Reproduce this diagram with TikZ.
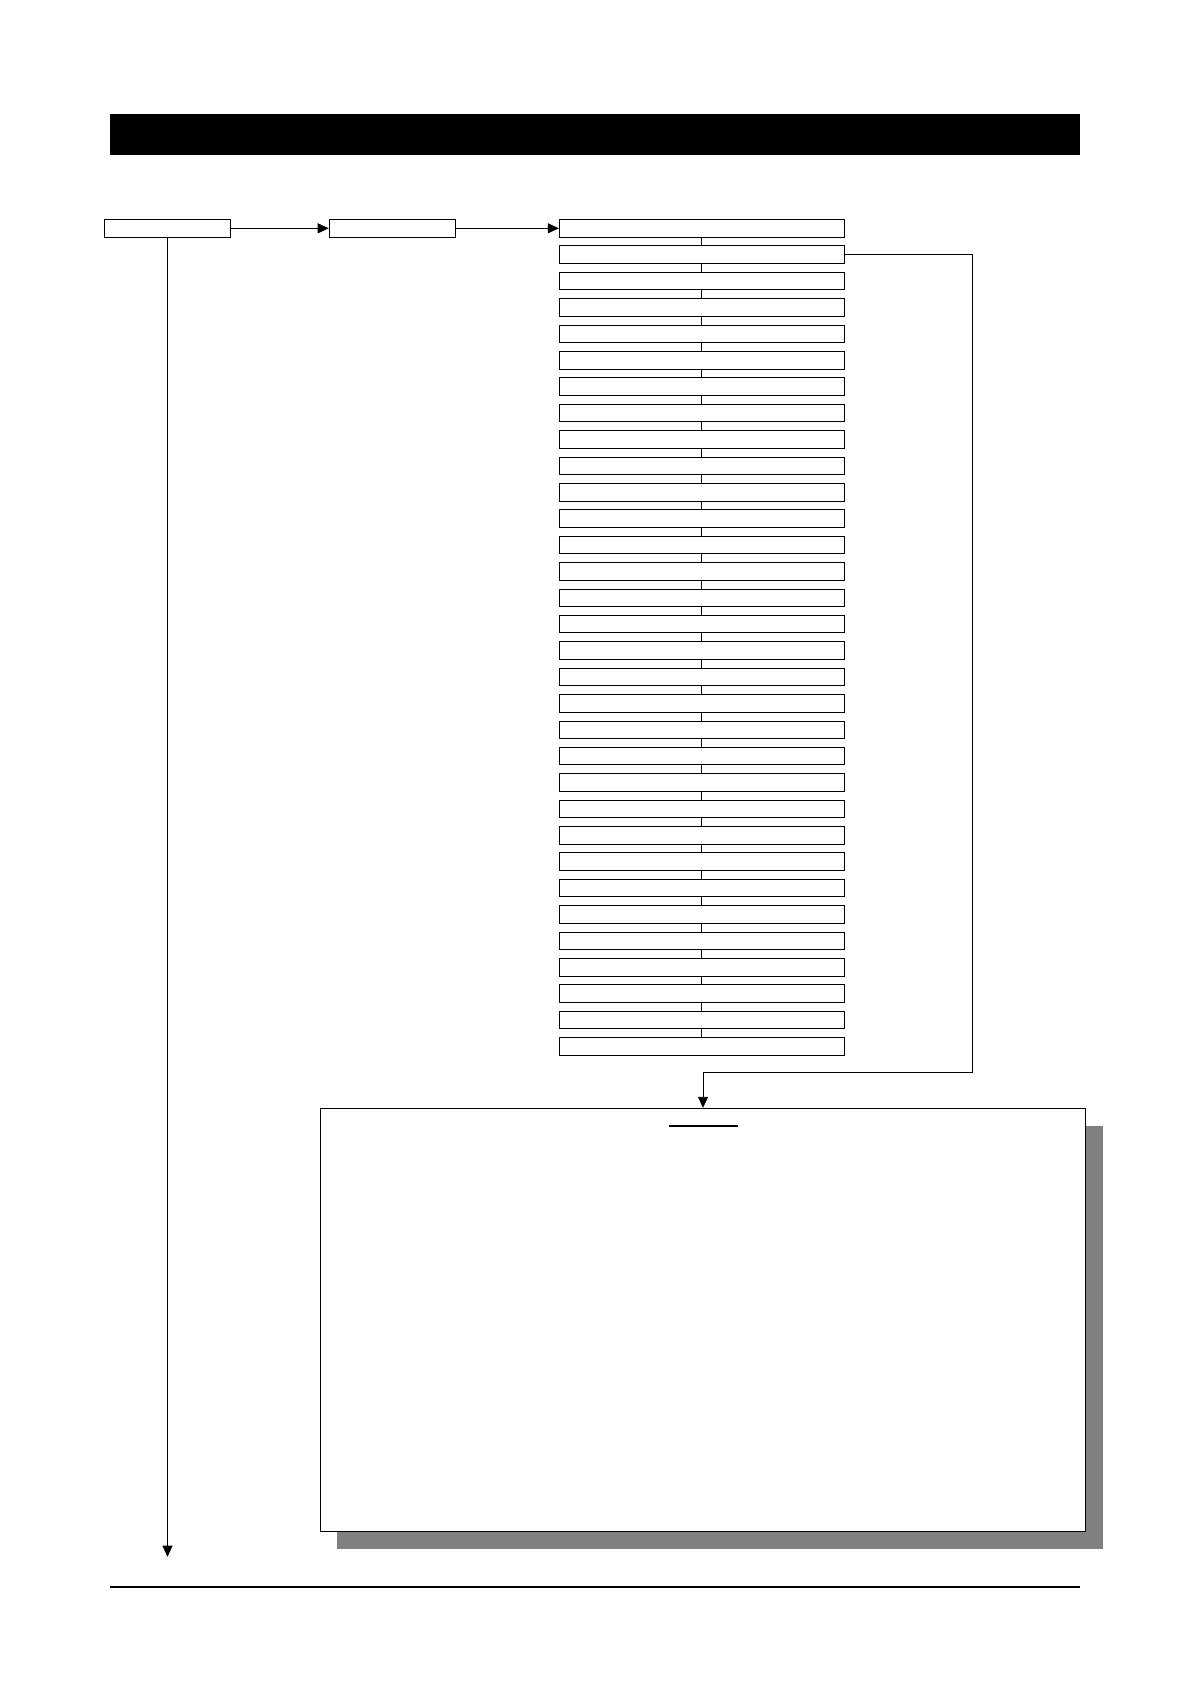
\documentclass[tikz,border=0pt]{standalone}
\usepackage{tikz}
\usetikzlibrary{arrows.meta,shadows}
\definecolor{shadowgray}{HTML}{808080}

\begin{document}
\begin{tikzpicture}[x=1pt,y=-1pt,node distance=26.39pt]
\tikzstyle{box}=[draw,line width=0.9pt,rectangle,inner sep=0pt,minimum height=18pt]
\tikzstyle{va}=[box,minimum width=126.7pt]
\tikzstyle{cell}=[box,minimum width=285pt,minimum height=17.5pt]
\tikzstyle{arr}=[line width=0.9pt,-{Triangle[length=11pt,width=10pt]}]
\tikzstyle{wire}=[line width=0.9pt]
\useasboundingbox (0,0) rectangle (1190,1684);
\node [fill=black,inner sep=0pt,minimum width=970pt,minimum height=41pt] (header) at (595,134.5) {};

\node [va] (a) at (167.5,228.3) {};
\node [va,node distance=225pt,right of=a] (b) {};
\node [cell,node distance=309.3pt,right of=b] (c1) {};
\foreach \i [count=\j from 2] in {1,...,31}
  \node [cell,below of=c\i] (c\j) {};

\node [draw,line width=1pt,fill=white,inner sep=0pt,minimum width=765.4pt,minimum height=423pt,
  drop shadow={shadow xshift=17pt,shadow yshift=-17.4pt,fill=shadowgray,opacity=1}] (panel) at (703,1319.8) {};
\draw [line width=2pt] ([xshift=-34.5pt,yshift=-18pt]panel.north) -- ++(69,0);

\coordinate (bend) at (972.3,1072);
\coordinate (aend) at (167.5,1556.7);
\draw [arr] (a) -- (b);
\draw [arr] (b) -- (c1);
\draw [arr] (a) -- (aend);
\draw [arr] (c2.east) -| (bend) -| (panel.north);
\foreach \i [count=\j from 2] in {1,...,31}
  \path [wire] (c\i) edge (c\j);

\draw [line width=2pt] (110,1587) -- (1080,1587);
\end{tikzpicture}
\end{document}
